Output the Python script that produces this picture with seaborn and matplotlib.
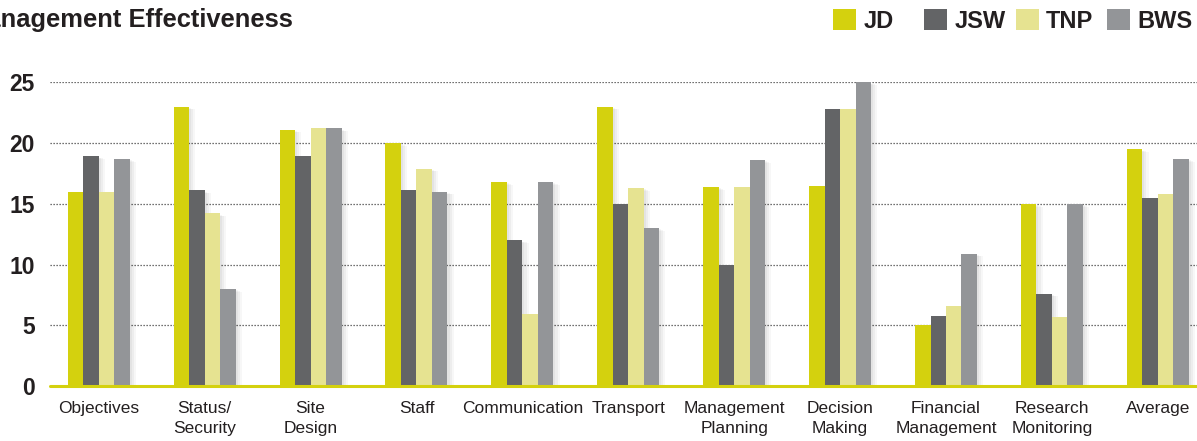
import matplotlib
matplotlib.use("Agg")
import matplotlib.pyplot as plt
import matplotlib.patheffects as pe
from matplotlib.patches import Patch
import pandas as pd
import seaborn as sns

categories = ["Objectives", "Status/\nSecurity", "Site\nDesign", "Staff", "Communication",
              "Transport", "Management\nPlanning", "Decision\nMaking",
              "Financial\nManagement", "Research\nMonitoring", "Average"]
sites = ["JD", "JSW", "TNP", "BWS"]
jd = [16.0, 23.0, 21.1, 20.0, 16.8, 23.0, 16.4, 16.5, 5.0, 15.0, 19.5]
jsw = [18.9, 16.1, 18.9, 16.1, 12.0, 15.0, 10.0, 22.8, 5.8, 7.6, 15.5]
tnp = [16.0, 14.2, 21.2, 17.9, 5.9, 16.3, 16.4, 22.8, 6.6, 5.7, 15.8]
bws = [18.7, 8.0, 21.2, 16.0, 16.8, 13.0, 18.6, 25.0, 10.9, 15.0, 18.7]
yticks = [0, 5, 10, 15, 20, 25]
colors = ["#d4d10e", "#636466", "#e6e391", "#939598"]
text_color = "#231f20"

rows = []
for site, vals in zip(sites, [jd, jsw, tnp, bws]):
    for cat, v in zip(categories, vals):
        rows.append({"Category": cat, "Site": site, "Score": v})
df = pd.DataFrame(rows)

sns.set_theme(style="white")
plt.rcParams["font.family"] = ["Liberation Sans", "DejaVu Sans"]

W, H = 1197, 441
fig = plt.figure(figsize=(W / 100, H / 100), dpi=100)
ax_left, ax_right = 50 / W, 1.0
ax_bottom = (H - 386.0) / H
ax_top = (H - 82.3) / H
ax = fig.add_axes([ax_left, ax_bottom, ax_right - ax_left, ax_top - ax_bottom])

sns.barplot(data=df, x="Category", y="Score", hue="Site", order=categories,
            hue_order=sites, palette=colors, width=0.585, saturation=1,
            ax=ax, legend=False, zorder=3)

# soft drop shadow to the lower right of each bar
shadow = [pe.SimplePatchShadow(offset=(1.5, -1), shadow_rgbFace="black", alpha=0.04),
          pe.SimplePatchShadow(offset=(3, -1.5), shadow_rgbFace="black", alpha=0.04),
          pe.SimplePatchShadow(offset=(4.5, -2), shadow_rgbFace="black", alpha=0.03),
          pe.Normal()]
for p in ax.patches:
    p.set_edgecolor("none")
    p.set_path_effects(shadow)

ax.set_xlim(-0.46, 10.37)
ax.set_ylim(0, 25)
ax.set_yticks(yticks)
ax.set_yticklabels([str(t) for t in yticks], fontsize=16.5, fontweight="bold",
                   color=text_color)
ax.tick_params(axis="y", length=0, pad=11)
ax.tick_params(axis="x", length=0, pad=11)
for lbl in ax.get_xticklabels():
    lbl.set_fontsize(12.5)
    lbl.set_color(text_color)
    lbl.set_multialignment("center")
    lbl.set_linespacing(1.4)
ax.set_xlabel("")
ax.set_ylabel("")
for s in ax.spines.values():
    s.set_visible(False)

for t in yticks[1:]:
    ax.axhline(t, color="#444444", lw=0.9, ls=(0, (1, 1.4)), zorder=1)
ax.axhline(0, color="#d4d10e", lw=2.2, zorder=4, clip_on=False)

fig.text(293 / W, (H - 27) / H, "Management Effectiveness", ha="right",
         va="baseline", fontsize=18.4, fontweight="bold", color=text_color)

# one legend entry per site, each anchored at its own spot along the top
entry_x = [833, 924, 1016, 1107]
for site, c, x in zip(sites, colors, entry_x):
    leg = fig.legend([Patch(facecolor=c, edgecolor="none")], [site],
                     loc="upper left", bbox_to_anchor=(x / W, (H - 9) / H),
                     frameon=False, handlelength=0.98, handleheight=0.98,
                     handletextpad=0.3, borderpad=0, borderaxespad=0,
                     prop={"weight": "bold", "size": 17})
    for t in leg.get_texts():
        t.set_color(text_color)

fig.savefig("out.png", dpi=100)
